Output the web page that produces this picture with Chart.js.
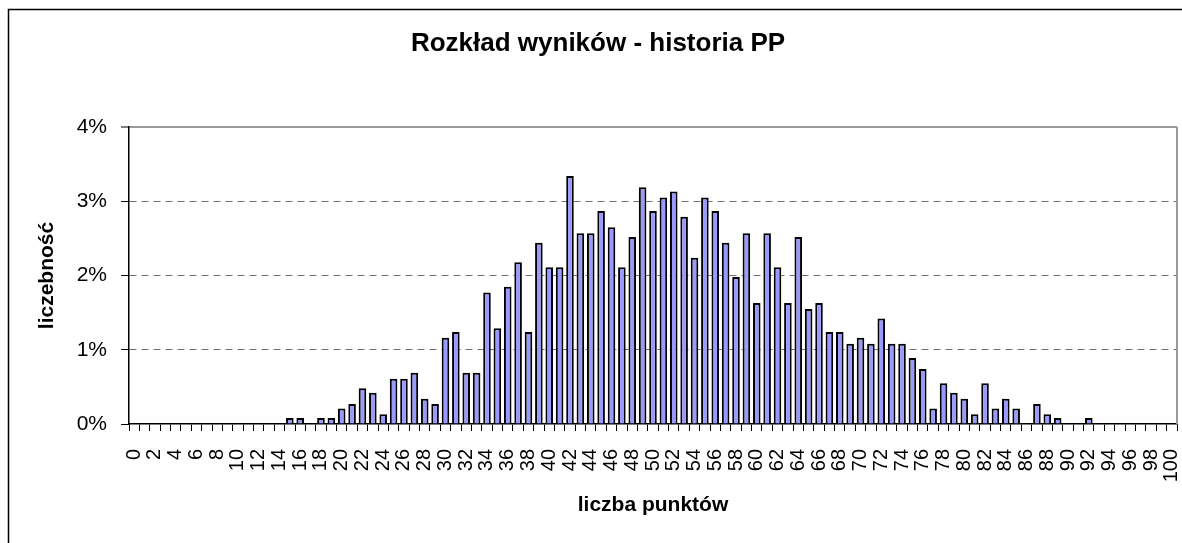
<!DOCTYPE html>
<html lang="pl">
<head>
<meta charset="utf-8">
<title>Rozkład wyników - historia PP</title>
<script src="https://cdn.jsdelivr.net/npm/chart.js@4.4.1/dist/chart.umd.min.js"></script>
<style>
  html, body { margin: 0; padding: 0; background: #ffffff; }
  #wrap { position: relative; width: 1182px; height: 543px; }
  canvas { display: block; }
</style>
</head>
<body>
<div id="wrap"><canvas id="chart" width="1182" height="543"></canvas></div>
<script>
// Liczba punktów 0..100
const points = Array.from({ length: 101 }, (_, i) => String(i));

// Udział wyników (%) dla każdej liczby punktów, kolejno od 0 do 100
const share = [
  0, 0, 0, 0, 0, 0, 0, 0, 0, 0,              // 0-9
  0, 0, 0, 0, 0, 0.08, 0.08, 0, 0.08, 0.08,  // 10-19
  0.21, 0.27, 0.48, 0.42, 0.13, 0.61, 0.61, 0.69, 0.34, 0.27, // 20-29
  1.16, 1.24, 0.69, 0.69, 1.77, 1.29, 1.85, 2.18, 1.24, 2.44, // 30-39
  2.11, 2.11, 3.34, 2.57, 2.57, 2.87, 2.65, 2.11, 2.52, 3.19, // 40-49
  2.87, 3.05, 3.13, 2.79, 2.24, 3.05, 2.87, 2.44, 1.98, 2.57, // 50-59
  1.63, 2.57, 2.11, 1.63, 2.52, 1.55, 1.63, 1.24, 1.24, 1.08, // 60-69
  1.16, 1.08, 1.42, 1.08, 1.08, 0.89, 0.74, 0.21, 0.55, 0.42, // 70-79
  0.34, 0.13, 0.55, 0.21, 0.34, 0.21, 0, 0.27, 0.13, 0.08,    // 80-89
  0, 0, 0.08, 0, 0, 0, 0, 0, 0, 0,           // 90-99
  0                                          // 100
];

// Podziałka osi Y (%)
const yTicks = [0, 1, 2, 3, 4];

const FONT = "'Liberation Sans', Arial, Helvetica, sans-serif";

// Ramka obszaru wykresu (lewa i górna krawędź) oraz prawa krawędź obszaru kreślenia
const framePlugin = {
  id: 'frame',
  beforeDraw(chart) {
    const ctx = chart.ctx;
    ctx.save();
    ctx.strokeStyle = '#000000';
    ctx.lineWidth = 1.5;
    ctx.beginPath();
    ctx.moveTo(8.5, chart.height);
    ctx.lineTo(8.5, 9.5);
    ctx.lineTo(chart.width, 9.5);
    ctx.stroke();
    ctx.restore();
  },
  beforeDatasetsDraw(chart) {
    const { ctx, chartArea } = chart;
    ctx.save();
    ctx.strokeStyle = '#999999';
    ctx.lineWidth = 2;
    ctx.beginPath();
    ctx.moveTo(chartArea.right, chartArea.top);
    ctx.lineTo(chartArea.right, chartArea.bottom);
    ctx.stroke();
    ctx.restore();
  }
};

new Chart(document.getElementById('chart'), {
  type: 'bar',
  data: {
    labels: points,
    datasets: [{
      label: 'liczebność',
      data: share.map(v => (v === 0 ? null : v)),
      backgroundColor: '#9999FF',
      borderColor: '#000000',
      borderWidth: 2,
      borderSkipped: 'bottom',
      categoryPercentage: 1.0,
      barPercentage: 0.73
    }]
  },
  options: {
    responsive: false,
    animation: false,
    devicePixelRatio: 1,
    layout: { padding: { left: 19, right: 5, top: 0, bottom: 0 } },
    plugins: {
      legend: { display: false },
      tooltip: { enabled: false },
      title: {
        display: true,
        text: 'Rozkład wyników - historia PP',
        color: '#000000',
        font: { family: FONT, size: 26, weight: 'bold' },
        padding: { top: 28.4, bottom: 67.4 }
      }
    },
    scales: {
      x: {
        offset: true,
        grid: {
          display: true,
          offset: true,
          drawOnChartArea: false,
          drawTicks: true,
          tickLength: 7,
          tickColor: '#000000',
          tickWidth: 1
        },
        border: { display: true, color: '#000000', width: 1.5 },
        ticks: {
          autoSkip: false,
          minRotation: 90,
          maxRotation: 90,
          padding: 18,
          color: '#000000',
          font: { family: FONT, size: 20 },
          callback(value, index) {
            return index % 2 === 0 ? this.getLabelForValue(value) : '';
          }
        },
        title: {
          display: true,
          text: 'liczba punktów',
          color: '#000000',
          font: { family: FONT, size: 21, weight: 'bold' },
          padding: { top: 0, bottom: 25.4 }
        },
        afterFit(scale) {
          scale.height = 119;
          scale.paddingLeft = 0;
          scale.paddingRight = 0;
        }
      },
      y: {
        min: 0,
        max: 4,
        afterBuildTicks(scale) {
          scale.ticks = yTicks.map(v => ({ value: v }));
        },
        grid: {
          drawTicks: true,
          tickLength: 8,
          tickColor: '#000000',
          tickWidth: 1,
          color: ctx => {
            const v = ctx.tick ? ctx.tick.value : null;
            if (v === 0) return 'rgba(0,0,0,0)';
            if (v === 4) return '#999999';
            return '#707070';
          },
          lineWidth: ctx => (ctx.tick && ctx.tick.value === 4 ? 2 : 1)
        },
        border: {
          display: true,
          color: '#000000',
          width: 1.5,
          dash: ctx => (ctx.tick && ctx.tick.value > 0 && ctx.tick.value < 4 ? [7, 5] : [])
        },
        ticks: {
          padding: 14,
          color: '#000000',
          font: { family: FONT, size: 21 },
          callback: v => v + '%'
        },
        title: {
          display: true,
          text: 'liczebność',
          color: '#000000',
          font: { family: FONT, size: 21, weight: 'bold' },
          padding: { top: 15.4, bottom: 0 }
        },
        afterFit(scale) {
          scale.width = 110;
          scale.paddingTop = 0;
          scale.paddingBottom = 0;
        }
      }
    }
  },
  plugins: [framePlugin]
});
</script>
</body>
</html>
